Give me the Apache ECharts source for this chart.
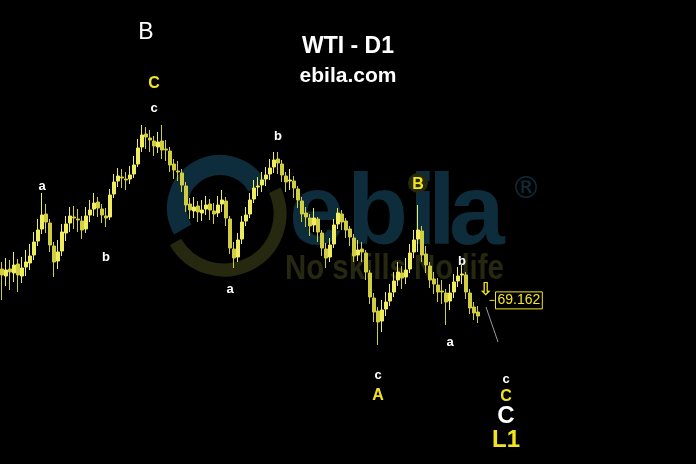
<!DOCTYPE html>
<html><head><meta charset="utf-8">
<script src="https://cdn.jsdelivr.net/npm/echarts@6/dist/echarts.min.js"></script>
<style>html,body{margin:0;padding:0;background:#000}#c{width:696px;height:464px}</style>
</head><body><div id="c"></div>
<script>
// daily bars (price units)
const opens = [72.3,71.6,72.3,71.9,72.8,71.6,72.5,72.9,73.7,75.1,76.3,77.8,76.9,74.6,73.1,74.1,75.9,76.9,77.5,77.3,
77.1,76.3,77.7,78.3,79.0,78.3,77.6,77.5,79.8,81.1,81.5,81.3,81.3,81.8,82.8,84.5,85.8,85.4,85.1,84.5,
85.1,84.3,84.1,82.8,82.1,81.9,80.6,78.8,78.1,78.6,77.9,78.3,78.8,78.1,77.9,78.8,79.1,77.3,74.3,73.5,
75.3,77.1,77.8,79.3,80.5,80.7,81.3,81.8,82.5,83.3,82.8,81.6,81.1,81.1,80.3,79.1,77.9,77.4,76.7,77.3,
75.9,74.3,73.5,74.8,76.8,77.8,77.1,76.3,75.4,73.7,74.3,73.9,71.9,69.4,68.1,67.1,68.3,69.1,70.0,71.2,
71.9,71.5,72.3,74.0,75.3,76.1,73.8,72.6,71.3,70.7,70.1,69.9,69.1,70.0,71.1,71.7,71.7,69.9,68.5,68.0];
const closes = [71.7,72.2,72.0,72.7,71.7,72.4,73.0,73.6,75.0,76.2,77.7,77.0,74.7,73.0,74.0,76.0,76.8,77.6,77.4,77.2,
76.2,77.6,78.2,78.9,78.4,77.7,77.4,79.7,81.0,81.6,81.4,81.2,81.7,82.7,84.4,85.7,85.5,85.2,84.6,85.0,
84.2,84.2,82.7,82.2,82.0,80.7,78.7,78.2,78.5,78.0,78.2,78.7,78.2,77.8,78.7,79.2,77.4,74.4,73.4,75.2,
77.0,77.7,79.2,80.4,80.6,81.2,81.7,82.4,83.2,82.9,81.7,81.0,81.2,80.4,79.2,77.8,77.5,76.6,77.4,76.0,
74.4,73.4,74.7,76.7,77.9,77.0,76.2,75.5,73.6,74.2,74.0,72.0,69.5,68.0,67.0,68.2,69.0,69.9,71.1,72.0,
71.4,72.2,73.9,75.2,76.2,73.7,72.7,71.2,70.8,70.0,70.0,69.0,69.9,71.0,71.6,71.8,70.0,68.4,67.9,67.6];
const lows = [69.2,70.6,70.2,71.0,70.0,70.9,71.6,72.2,73.2,74.6,75.8,75.9,74.0,71.5,72.3,73.6,75.1,76.0,76.3,76.0,
75.3,75.9,77.0,77.6,77.5,76.9,76.5,77.2,79.4,80.5,80.4,80.2,80.8,81.4,82.5,84.0,84.3,84.0,83.6,83.9,
83.3,83.1,82.0,81.3,81.1,80.0,78.0,77.3,77.4,77.0,77.1,77.7,77.2,76.8,77.5,78.0,76.6,73.8,72.4,73.0,
74.8,76.6,77.4,78.9,79.6,80.0,80.6,81.2,81.9,81.8,81.0,80.0,80.2,79.4,78.4,77.0,76.5,75.6,76.0,75.0,
73.6,72.4,73.0,74.4,76.3,76.2,75.4,74.6,73.0,73.1,73.0,71.2,68.8,67.0,64.7,66.0,67.6,68.6,69.5,70.6,
70.3,70.8,71.9,73.4,74.0,73.0,71.9,70.4,69.8,69.0,68.8,66.7,68.2,69.4,70.5,70.8,69.3,67.8,67.2,66.9];
const highs = [73.0,73.4,73.2,74.0,73.3,73.5,74.2,74.8,76.0,77.3,79.9,78.8,77.3,75.0,75.2,76.8,77.6,78.5,78.6,78.3,
77.6,78.5,79.2,79.9,79.5,78.8,78.4,80.3,81.8,82.4,82.3,82.0,82.6,83.6,85.3,86.7,86.5,86.2,85.6,86.0,
86.7,85.2,84.5,83.3,83.1,82.3,81.0,79.4,79.5,79.1,79.2,79.6,79.3,78.9,79.6,80.2,79.5,77.6,75.0,75.9,
77.6,78.5,79.9,81.2,81.5,82.0,82.5,83.3,84.0,84.0,83.2,82.0,82.3,81.6,80.6,79.5,78.5,77.8,78.4,77.5,
76.2,74.9,75.4,77.3,78.4,78.2,77.4,76.6,75.8,75.2,75.0,74.2,72.2,69.9,68.5,69.2,70.0,70.8,72.0,73.0,
72.6,73.4,74.8,76.2,78.7,76.6,74.6,73.0,72.0,71.4,71.2,70.3,70.8,71.8,72.5,72.7,72.0,70.3,69.0,68.6];
const categories = Array.from({length: 174}, (_, i) => 'D' + (i + 1));
// wave labels
const waveText  = ['B','C','c','a','b','b','a','B','b','a','c','A','c','C','C','L1'];
const waveIdx   = [36,38,38,10,26,69,57,104,115,112,94,94,126,126,126,126];
const wavePrice = [95.9,90.8,88.4,80.6,73.5,85.6,70.3,80.7,73.1,65.0,61.7,59.6,61.3,59.5,57.6,55.2];
const waveColor = ['#ffffff','#f2e422','#ffffff','#ffffff','#ffffff','#ffffff','#ffffff','#f2e422','#ffffff','#ffffff','#ffffff','#f2e422','#ffffff','#f2e422','#ffffff','#f2e422'];
const waveSize  = [23,16,13,13,13,13,13,16,13,13,13,16,13,16,24,24];
const lastPrice = 69.162;
const arrowPos = [121, 70.2];
const projLine = [[121, 68.5], [124, 65.0]];

const candleData = opens.map((o, i) => [o, closes[i], lows[i], highs[i]]);
const TEAL = '#0e2d3c', OLIVE = '#26290f', YEL = '#f2e422';
const F = 'bold 100px "Liberation Sans"';
const chart = echarts.init(document.getElementById('c'));
chart.setOption({
  backgroundColor: '#000',
  animation: false,
  title: {
    text: 'WTI - D1', subtext: 'ebila.com', left: 'center', top: 30, itemGap: 8,
    textStyle: {color: '#fff', fontSize: 23, fontWeight: 'bold', fontFamily: 'Liberation Sans'},
    subtextStyle: {color: '#fff', fontSize: 21, fontWeight: 'bold', fontFamily: 'Liberation Sans'}
  },
  grid: {left: 0, right: 0, top: 0, bottom: 0},
  xAxis: {type: 'category', data: categories, show: false, boundaryGap: true},
  yAxis: {type: 'value', min: 52.8, max: 99.2, show: false, splitLine: {show: false}},
  graphic: [
    {type: 'arc', z: 0, shape: {cx: 224, cy: 214, r: 56, startAngle: -25 * Math.PI / 180, endAngle: 150 * Math.PI / 180},
     style: {stroke: OLIVE, lineWidth: 13, fill: null}},
    {type: 'arc', z: 0, shape: {cx: 220, cy: 208, r: 43, startAngle: 150 * Math.PI / 180, endAngle: 330 * Math.PI / 180},
     style: {stroke: TEAL, lineWidth: 20, fill: null}},
    {type: 'text', z: 0, x: 289, y: 166, style: {text: 'e', fill: TEAL, font: F}},
    {type: 'text', z: 0, x: 347, y: 166, style: {text: 'b', fill: TEAL, font: F}},
    {type: 'text', z: 0, x: 409, y: 166, style: {text: 'i', fill: TEAL, font: F}},
    {type: 'text', z: 0, x: 428, y: 166, style: {text: 'l', fill: TEAL, font: F}},
    {type: 'text', z: 0, x: 449, y: 166, style: {text: 'a', fill: TEAL, font: F}},
    {type: 'circle', z: 1, shape: {cx: 418, cy: 183, r: 10}, style: {fill: OLIVE}},
    {type: 'text', z: 0, x: 511, y: 175, style: {text: '®', fill: TEAL, font: '30px "DejaVu Sans"'}},
    {type: 'text', z: 0, x: 285, y: 252, scaleX: 0.84, style: {text: 'No skills No life', fill: OLIVE, font: 'bold 35px "Liberation Sans"'}}
  ],
  series: [
    {
      type: 'candlestick', data: candleData, barWidth: 3, z: 3,
      itemStyle: {color: '#f0ec62', color0: '#d0cd40', borderColor: '#f0ec62', borderColor0: '#d0cd40', borderWidth: 1},
      markLine: {silent: true, symbol: 'none', label: {show: false},
        lineStyle: {color: '#9a9a9a', width: 1, type: 'solid'},
        data: [[{coord: projLine[0]}, {coord: projLine[1]}]]}
    },
    {
      type: 'scatter', symbolSize: 0, z: 5, silent: true, itemStyle: {opacity: 1},
      label: {show: true, position: 'inside', formatter: '{b}', fontFamily: 'Liberation Sans', fontWeight: 'bold', opacity: 1},
      data: waveText.map((t, i) => ({name: t, value: [waveIdx[i], wavePrice[i]],
        label: {color: waveColor[i], fontSize: waveSize[i], opacity: 1, fontWeight: waveSize[i] === 23 ? 'normal' : 'bold'}}))
    },
    {
      type: 'scatter', z: 5, silent: true, symbol: 'rect', symbolSize: [5, 1], symbolOffset: [-2, 0],
      itemStyle: {color: YEL, opacity: 1},
      label: {show: true, position: 'right', distance: 1, color: YEL, fontSize: 14, opacity: 1,
        fontFamily: 'Liberation Sans', borderColor: YEL, borderWidth: 1, padding: [2, 2, 1, 2],
        formatter: () => lastPrice.toFixed(3)},
      data: [[123, lastPrice]]
    },
    {
      type: 'scatter', symbolSize: 0, z: 5, silent: true, itemStyle: {opacity: 1},
      label: {show: true, position: 'inside', formatter: '⇩', color: YEL, opacity: 1, fontSize: 18, fontWeight: 'bold', fontFamily: 'DejaVu Sans'},
      data: [arrowPos]
    }
  ]
});
</script></body></html>
